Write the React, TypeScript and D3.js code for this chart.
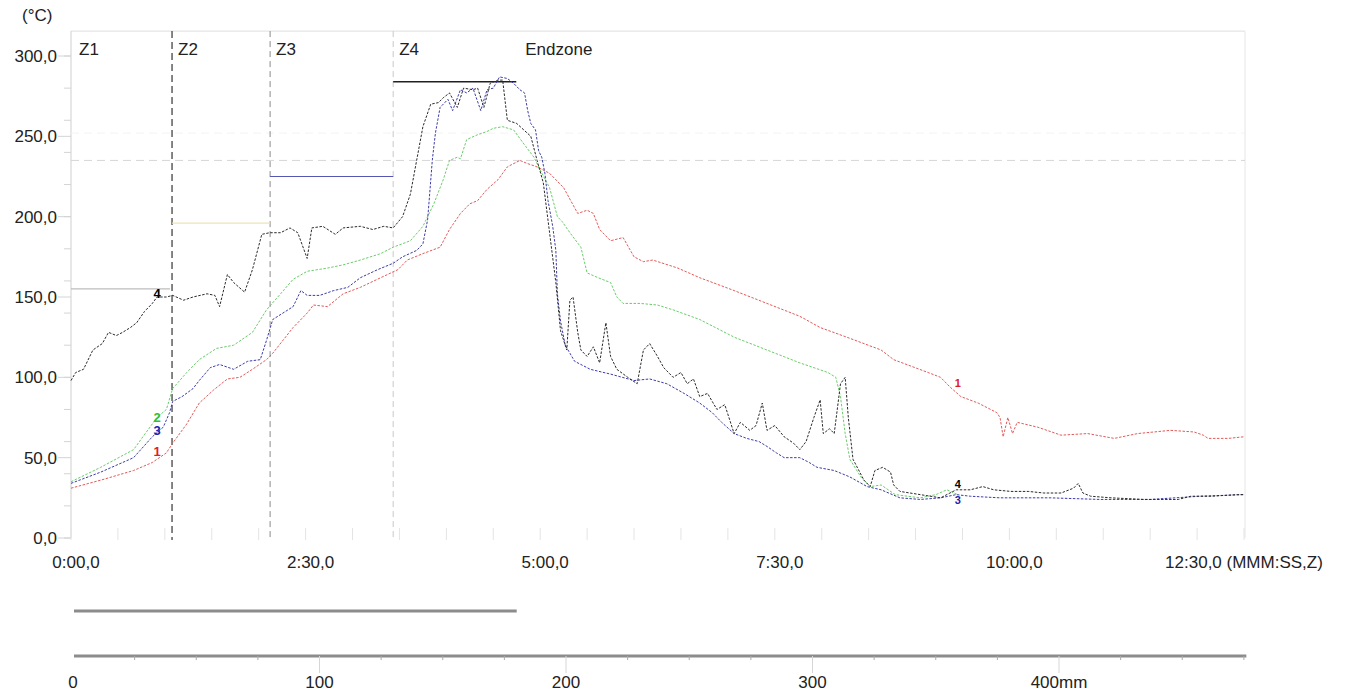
import React from 'react';
import * as d3 from 'd3';

// time in seconds, temperature in °C
const series1: [number, number][] = [
  [0, 31], [19, 36], [40, 42], [52, 47], [61, 53], [65, 59], [74, 71], [82, 84], [91, 92], [100, 99],
  [108, 100], [116, 105], [125, 111], [129, 115], [142, 131], [151, 140], [155, 145], [164, 144], [174, 152],
  [185, 156], [198, 162], [209, 167], [215, 173], [225, 177], [236, 181], [242, 192], [249, 202], [255, 208],
  [260, 210], [266, 217], [273, 223], [279, 231], [287, 235], [292, 233], [298, 231], [306, 227], [315, 218],
  [324, 202], [330, 204], [334, 202], [338, 192], [345, 185], [353, 187], [360, 175], [366, 172], [372, 173],
  [388, 168], [402, 162], [424, 154], [445, 146], [466, 138], [479, 131], [496, 125], [518, 117], [526, 111],
  [548, 103], [556, 100], [562, 94], [569, 88], [580, 84], [592, 78], [594, 75], [596, 63], [599, 75],
  [602, 65], [605, 72], [618, 69], [633, 64], [650, 65], [667, 62], [682, 65], [703, 67], [718, 66],
  [724, 64], [727, 62], [740, 62], [750, 63],
];

const series2: [number, number][] = [
  [0, 35], [19, 44], [40, 55], [55, 75], [61, 80], [65, 93], [74, 103], [82, 111], [93, 118], [104, 120],
  [116, 128], [125, 142], [134, 152], [142, 161], [151, 166], [164, 168], [174, 170], [185, 173], [198, 177],
  [206, 181], [217, 185], [225, 194], [232, 208], [238, 223], [242, 235], [247, 237], [249, 236], [253, 248],
  [260, 251], [266, 253], [270, 255], [276, 256], [283, 254], [289, 246], [296, 237], [300, 229], [306, 218],
  [311, 200], [314, 197], [319, 190], [326, 181], [330, 165], [337, 162], [345, 159], [349, 150], [353, 146],
  [364, 146], [375, 145], [385, 142], [402, 136], [424, 125], [445, 117], [466, 109], [484, 103], [489, 100],
  [492, 88], [495, 65], [498, 49], [505, 38], [511, 32], [518, 33], [527, 27], [543, 25], [553, 27],
  [560, 30], [567, 27],
];

const series3: [number, number][] = [
  [0, 34], [19, 41], [40, 50], [52, 63], [59, 69], [63, 78], [65, 85], [71, 88], [78, 93], [82, 98],
  [89, 106], [95, 108], [104, 105], [113, 110], [121, 111], [125, 123], [129, 136], [142, 144], [147, 154],
  [151, 151], [159, 151], [168, 154], [177, 156], [185, 162], [196, 167], [206, 171], [212, 175], [221, 179],
  [225, 183], [228, 198], [229, 210], [231, 235], [233, 252], [236, 268], [241, 273], [244, 266], [249, 279],
  [253, 277], [257, 280], [262, 266], [266, 279], [270, 280], [274, 287], [279, 286], [283, 283], [287, 279],
  [290, 277], [292, 266], [294, 258], [297, 254], [299, 241], [301, 237], [303, 227], [305, 210], [308, 194],
  [310, 179], [311, 152], [313, 135], [316, 120], [322, 110], [332, 105], [345, 102], [360, 98], [370, 99],
  [381, 96], [392, 90], [402, 84], [410, 78], [416, 72], [424, 65], [432, 62], [440, 60], [445, 57],
  [451, 53], [456, 50], [466, 50], [472, 47], [477, 44], [488, 42], [498, 38], [509, 32], [518, 30],
  [530, 25], [543, 24], [556, 25], [566, 27], [575, 26], [594, 25], [626, 25], [658, 24], [690, 24],
  [722, 26], [750, 27],
];

const series4: [number, number][] = [
  [0, 98], [3, 103], [8, 105], [14, 117], [20, 121], [24, 128], [29, 126], [33, 128], [38, 131], [42, 134],
  [47, 141], [52, 146], [55, 150], [61, 150], [65, 151], [72, 148], [78, 150], [87, 152], [92, 151], [95, 144],
  [100, 164], [104, 159], [111, 153], [116, 167], [122, 189], [127, 190], [134, 190], [140, 193], [145, 190],
  [151, 174], [154, 193], [161, 194], [169, 189], [174, 193], [185, 194], [193, 192], [200, 194], [206, 193],
  [212, 200], [217, 214], [221, 235], [225, 256], [230, 270], [235, 271], [238, 274], [242, 277], [247, 268],
  [251, 280], [257, 279], [260, 280], [264, 268], [268, 283], [273, 285], [276, 285], [279, 260], [285, 258],
  [294, 250], [298, 235], [302, 221], [306, 190], [310, 159], [313, 129], [317, 117], [319, 148], [321, 150],
  [324, 128], [326, 117], [330, 113], [334, 119], [338, 109], [342, 134], [345, 113], [349, 105], [356, 100],
  [362, 96], [366, 117], [370, 121], [375, 113], [379, 106], [385, 100], [390, 103], [394, 96], [398, 99],
  [402, 88], [407, 90], [413, 80], [418, 83], [424, 65], [428, 72], [434, 67], [438, 70], [442, 84],
  [445, 67], [450, 70], [456, 63], [462, 59], [466, 55], [470, 60], [475, 75], [479, 86], [481, 65],
  [485, 68], [488, 65], [492, 96], [495, 100], [497, 75], [500, 49], [507, 36], [511, 32], [514, 42],
  [519, 44], [524, 41], [526, 33], [530, 29], [543, 27], [556, 25], [566, 30], [575, 30], [583, 32],
  [590, 30], [601, 29], [612, 29], [622, 28], [633, 28], [641, 31], [644, 34], [647, 28], [652, 26],
  [665, 25], [686, 24], [708, 24], [716, 26], [729, 26], [746, 27], [750, 27],
];

const timeTicks = [0, 150, 300, 450, 600, 750];
const timeTickLabels = ['0:00,0', '2:30,0', '5:00,0', '7:30,0', '10:00,0', '12:30,0 (MMM:SS,Z)'];
const tempTicks = [0, 50, 100, 150, 200, 250, 300];
const tempTickLabels = ['0,0', '50,0', '100,0', '150,0', '200,0', '250,0', '300,0'];

const zoneNames = ['Z1', 'Z2', 'Z3', 'Z4', 'Endzone'];
const zoneStarts = [0, 64.6, 127.3, 206, 284.7];
const zoneSetpoints = [155, 196, 225, 284];
const limitTemp = 235;
const faintTemp = 252;

const distTicks = [0, 100, 200, 300, 400];
const distTickLabels = ['0', '100', '200', '300', '400mm'];
const distMax = 476;
const boardLength = 180;

const FONT = '"Liberation Sans", Arial, sans-serif';

const seriesList = [
  { id: '1', data: series1, color: '#e25a5a', label: '#e02020' },
  { id: '2', data: series2, color: '#6ccc6c', label: '#30c030' },
  { id: '3', data: series3, color: '#3c3ca8', label: '#2020b0' },
  { id: '4', data: series4, color: '#2a2a2a', label: '#000000' },
];

function valueAt(data: [number, number][], t: number) {
  const i = d3.bisector((d: [number, number]) => d[0]).left(data, t);
  if (i <= 0) return data[0][1];
  if (i >= data.length) return data[data.length - 1][1];
  const [t0, v0] = data[i - 1];
  const [t1, v1] = data[i];
  return v0 + ((t - t0) / (t1 - t0)) * (v1 - v0);
}

export default function App() {
  const W = 1348, H = 695;
  const x = d3.scaleLinear().domain([0, 750]).range([71, 1244]);
  const y = d3.scaleLinear().domain([0, 300]).range([538, 56]);
  const xd = d3.scaleLinear().domain([0, 100]).range([73, 319.5]);
  const top = y(315.5);
  const bottom = y(0);
  const left = x(0);
  const right = x(750) + 1;

  const line = d3.line<[number, number]>().x(d => x(d[0])).y(d => y(d[1]));

  const zoneLineStyle = [
    null,
    { stroke: '#444', dash: '7 4', w: 1.3 },
    { stroke: '#8a8a8a', dash: '6 4', w: 1 },
    { stroke: '#c8c8c8', dash: '6 4', w: 1 },
  ];
  const setpointColors = ['#bdbdbd', '#ebe6b4', '#5656b4', '#202020'];

  const leftLabels = [
    { s: seriesList[3], dy: -3 },
    { s: seriesList[1], dy: 0 },
    { s: seriesList[2], dy: -2 },
    { s: seriesList[0], dy: -7 },
  ];
  const rightLabels = [
    { s: seriesList[0], dy: -11 },
    { s: seriesList[3], dy: -6 },
    { s: seriesList[2], dy: 5 },
  ];

  return (
    <svg width={W} height={H} style={{ position: 'absolute', left: 0, top: 0, background: '#fff' }} fontFamily={FONT}>
      <rect x={0} y={0} width={W} height={H} fill="#fff" />

      {/* frame */}
      <line x1={left} x2={right} y1={top} y2={top} stroke="#dedede" />
      <line x1={right} x2={right} y1={top} y2={bottom} stroke="#e6e6e6" />
      <line x1={left} x2={left} y1={top} y2={bottom} stroke="#cfcfcf" />

      {/* unit */}
      <text x={22} y={21} fontSize={17} fill="#222">(°C)</text>

      {/* y ticks */}
      {d3.range(0, 301, 20).map(v => (
        <line key={'m' + v} x1={left - 7} x2={left} y1={y(v)} y2={y(v)} stroke="#d4d4d4" />
      ))}
      {tempTicks.map((v, i) => (
        <g key={'t' + v}>
          <line x1={left - 13} x2={left} y1={y(v)} y2={y(v)} stroke="#d4d4d4" />
          <text x={57} y={y(v) + 6} textAnchor="end" fontSize={17} fill="#222">{tempTickLabels[i]}</text>
        </g>
      ))}

      {/* x ticks */}
      {d3.range(0, 751, 30).map(t => (
        <line key={'xt' + t} x1={x(t)} x2={x(t)} y1={bottom - 10} y2={bottom + 2} stroke="#e4e4e4" />
      ))}
      {timeTicks.map((t, i) => (
        <text key={'xl' + t} x={x(t) + (i === timeTicks.length - 1 ? 0 : 5)} y={568} textAnchor="middle" fontSize={17} fill="#222">
          {timeTickLabels[i]}
        </text>
      ))}

      {/* faint and limit lines */}
      <line x1={left} x2={right} y1={y(faintTemp)} y2={y(faintTemp)} stroke="#f3f3f3" strokeDasharray="8 5" />
      <line x1={left} x2={right} y1={y(limitTemp)} y2={y(limitTemp)} stroke="#d6d6d6" strokeDasharray="8 5" />

      {/* zone boundaries */}
      {zoneStarts.slice(1, 4).map((t, i) => {
        const st = zoneLineStyle[i + 1]!;
        return (
          <line key={'zb' + i} x1={x(t)} x2={x(t)} y1={top} y2={bottom + 2} stroke={st.stroke}
            strokeDasharray={st.dash} strokeWidth={st.w} />
        );
      })}
      {zoneNames.map((n, i) => (
        <text key={'zn' + n} x={x(zoneStarts[i]) + (i === 0 ? 8 : i === 4 ? 9 : 6)} y={55} fontSize={17} fill="#222">{n}</text>
      ))}

      {/* setpoints */}
      {zoneSetpoints.map((v, i) => (
        <line key={'sp' + i} x1={x(zoneStarts[i])} x2={x(zoneStarts[i + 1]) - (i === 0 ? 2 : 0)}
          y1={y(v)} y2={y(v)} stroke={setpointColors[i]} strokeWidth={i === 3 ? 1.6 : 1.2} />
      ))}

      {/* curves */}
      {seriesList.map(s => (
        <path key={'c' + s.id} d={line(s.data) || ''} fill="none" stroke={s.color} strokeWidth={1}
          strokeDasharray="2.5 1.5" />
      ))}

      {/* series labels */}
      {leftLabels.map(({ s, dy }) => (
        <text key={'ll' + s.id} x={x(55)} y={y(valueAt(s.data, 55)) + dy + 4} textAnchor="middle"
          fontSize={13} fontWeight="bold" fill={s.label}>{s.id}</text>
      ))}
      {rightLabels.map(({ s, dy }) => (
        <text key={'rl' + s.id} x={x(567)} y={y(valueAt(s.data, 567)) + dy + 4} textAnchor="middle"
          fontSize={11} fontWeight="bold" fill={s.label}>{s.id}</text>
      ))}

      {/* board length bar */}
      <line x1={xd(0) + 1} x2={xd(boardLength)} y1={611} y2={611} stroke="#8c8c8c" strokeWidth={3} />

      {/* distance scale */}
      <line x1={xd(0) + 1} x2={xd(distMax)} y1={656} y2={656} stroke="#8c8c8c" strokeWidth={3} />
      {d3.range(25, distMax, 25).filter(d => d % 100 !== 0).map(d => (
        <line key={'dm' + d} x1={xd(d)} x2={xd(d)} y1={656} y2={660} stroke="#aaa" />
      ))}
      {distTicks.slice(1).map(d => (
        <line key={'dt' + d} x1={xd(d)} x2={xd(d)} y1={656} y2={673} stroke="#d6d6d6" />
      ))}
      {distTicks.map((d, i) => (
        <text key={'dl' + d} x={xd(d)} y={688} textAnchor="middle" fontSize={17} fill="#222">{distTickLabels[i]}</text>
      ))}
    </svg>
  );
}
